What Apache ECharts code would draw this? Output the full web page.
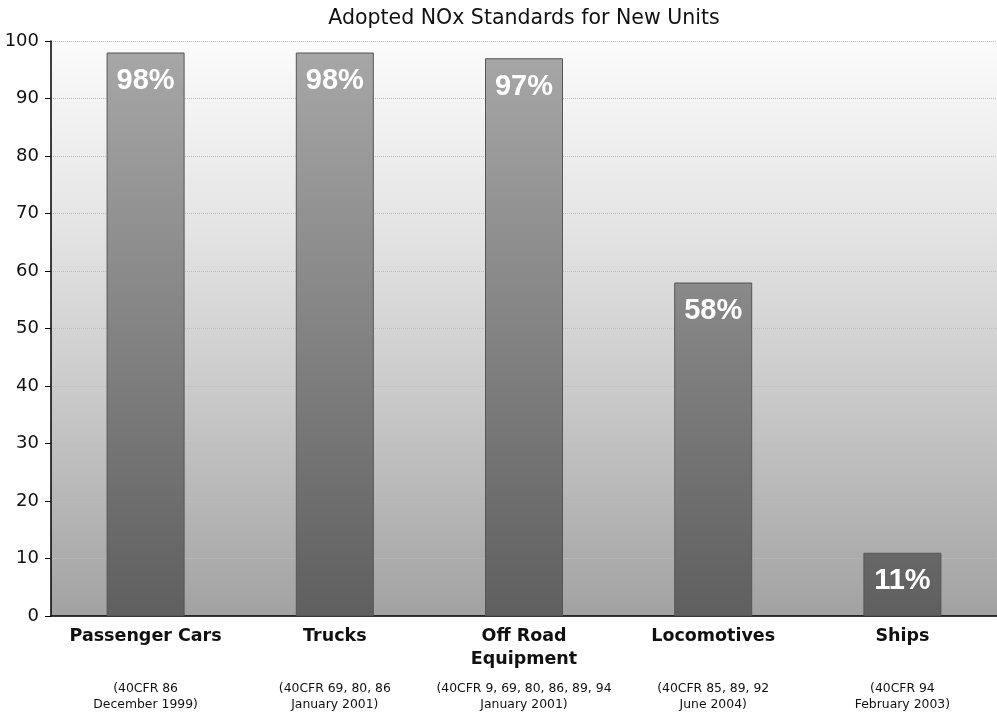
<!DOCTYPE html>
<html>
<head>
<meta charset="utf-8">
<script src="https://cdn.jsdelivr.net/npm/echarts@6/dist/echarts.min.js"></script>
<style>
    html, body { margin: 0; padding: 0; background: #fff; }
    #charts { width: 997px; height: 716px; }
</style>
</head>
<body>
<div id="charts"></div>
<script>
    var categories = ['Passenger Cars', 'Trucks', 'Off Road\nEquipment', 'Locomotives', 'Ships'];
    var citations = [
        '(40CFR 86\nDecember 1999)',
        '(40CFR 69, 80, 86\nJanuary 2001)',
        '(40CFR 9, 69, 80, 86, 89, 94\nJanuary 2001)',
        '(40CFR 85, 89, 92\nJune 2004)',
        '(40CFR 94\nFebruary 2003)'
    ];
    var adopted = [98, 98, 97, 58, 11];
    var yTicks = [0, 10, 20, 30, 40, 50, 60, 70, 80, 90, 100];

    var arial = '"Liberation Sans", Arial, sans-serif';
    var wide = '"DejaVu Sans", sans-serif';

    var myCharts = echarts.init(document.getElementById('charts'));
    myCharts.setOption({
        animation: false,
        title: {
            text: 'Adopted NOx Standards for New Units',
            left: 519,
            textAlign: 'center',
            top: 3,
            textStyle: { fontFamily: wide, fontSize: 20.5, fontWeight: 'normal', color: '#111' }
        },
        grid: {
            left: 51,
            right: 0,
            top: 41,
            bottom: 100,
            show: true,
            borderWidth: 0,
            // grey shading, light at the top, darker at the base
            backgroundColor: new echarts.graphic.LinearGradient(0, 0, 0, 1, [
                { offset: 0, color: '#fbfbfb' },
                { offset: 0.3, color: '#e6e6e6' },
                { offset: 0.6, color: '#cbcbcb' },
                { offset: 1, color: '#a2a2a2' }
            ])
        },
        xAxis: {
            type: 'category',
            data: categories.map(function (c, i) { return c + '|' + citations[i]; }),
            axisLine: { show: true, lineStyle: { color: '#000', width: 1.5 } },
            axisTick: { show: false },
            axisLabel: {
                interval: 0,
                margin: 9,
                formatter: function (v) {
                    var parts = v.split('|');
                    var name = parts[0].split('\n');
                    if (name.length < 2) name.push('');
                    var cite = parts[1].split('\n');
                    return name.map(function (n) { return '{b|' + n + '}'; }).join('\n') +
                        '\n{g|}\n' +
                        cite.map(function (n) { return '{s|' + n + '}'; }).join('\n');
                },
                rich: {
                    b: { fontFamily: wide, fontSize: 17.5, fontWeight: 'bold', color: '#111', lineHeight: 23 },
                    g: { lineHeight: 10 },
                    s: { fontFamily: wide, fontSize: 12.4, color: '#111', lineHeight: 16 }
                }
            }
        },
        yAxis: {
            type: 'value',
            min: yTicks[0],
            max: yTicks[yTicks.length - 1],
            interval: 10,
            axisLine: { show: true, lineStyle: { color: '#000', width: 1.5 } },
            axisTick: { show: true, length: 6, lineStyle: { color: '#000' } },
            axisLabel: { fontFamily: wide, fontSize: 18, color: '#111', margin: 12 },
            splitLine: {
                show: true,
                lineStyle: { color: '#bdbdbd', type: 'dotted', width: 1 }
            }
        },
        series: [
            {
                name: 'Adopted',
                type: 'bar',
                barWidth: 78,
                data: adopted,
                itemStyle: {
                    borderColor: '#555',
                    borderWidth: 1,
                    // shade by page height so short bars come out darker
                    color: new echarts.graphic.LinearGradient(0, 41, 0, 616, [
                        { offset: 0, color: '#a8a8a8' },
                        { offset: 1, color: '#5f5f5f' }
                    ], true)
                },
                label: {
                    show: true,
                    position: 'insideTop',
                    distance: 14,
                    formatter: '{c}%',
                    fontFamily: arial,
                    fontSize: 29,
                    fontWeight: 'bold',
                    color: '#fff'
                }
            }
        ]
    });
</script>
</body>
</html>
